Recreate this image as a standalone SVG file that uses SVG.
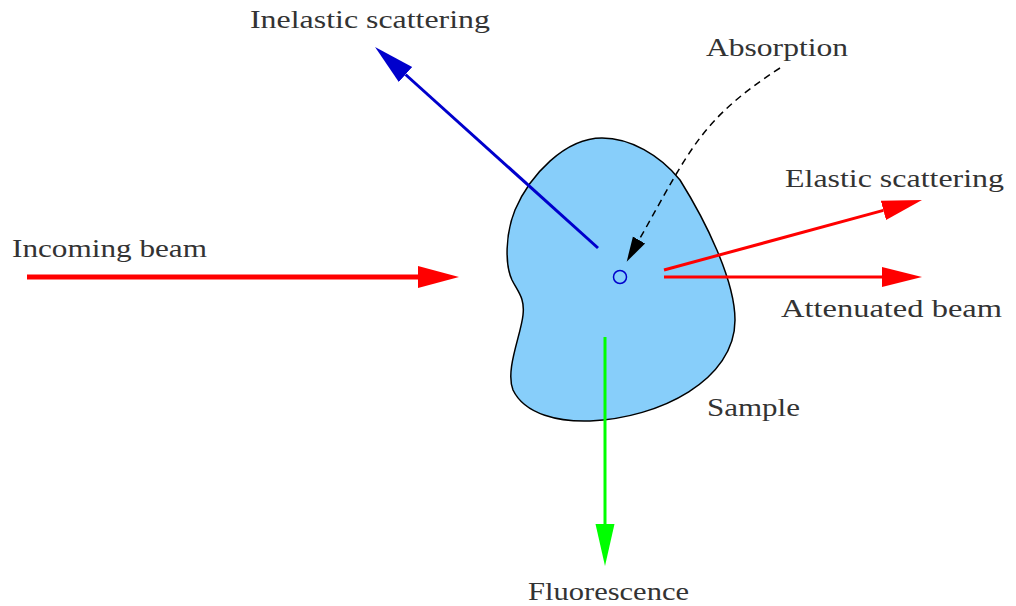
<svg xmlns="http://www.w3.org/2000/svg" width="1016" height="606" viewBox="0 0 1016 606">
  <style>
    .lbl { font-family: "Liberation Serif", "DejaVu Serif", serif; font-size: 26px; fill: #333333; }
    .red { stroke: #ff0000; fill: none; }
    .blue { stroke: #0000cc; fill: none; }
    .green { stroke: #00ff00; fill: none; }
  </style>
  <defs>
    <marker id="hRed" markerUnits="userSpaceOnUse" viewBox="0 -12 42 24" refX="0" refY="0" markerWidth="42" markerHeight="24" orient="auto">
      <path d="M0,-11 L41,0 L0,11 Z" fill="#ff0000"/>
    </marker>
    <marker id="hRedS" markerUnits="userSpaceOnUse" viewBox="0 -12 42 24" refX="0" refY="0" markerWidth="42" markerHeight="24" orient="auto">
      <path d="M0,-10 L40,0 L0,10 Z" fill="#ff0000"/>
    </marker>
    <marker id="hBlue" markerUnits="userSpaceOnUse" viewBox="0 -12 42 24" refX="0" refY="0" markerWidth="42" markerHeight="24" orient="auto">
      <path d="M0,-10 L41,0 L0,10 Z" fill="#0000cc"/>
    </marker>
    <marker id="hGreen" markerUnits="userSpaceOnUse" viewBox="0 -12 43 24" refX="0" refY="0" markerWidth="43" markerHeight="24" orient="auto">
      <path d="M0,-9.5 L42,0 L0,9.5 Z" fill="#00ff00"/>
    </marker>
    <marker id="hBlack" markerUnits="userSpaceOnUse" viewBox="0 -8 26 16" refX="0" refY="0" markerWidth="26" markerHeight="16" orient="auto">
      <path d="M0,-7 L25,0 L0,7 Z" fill="#000000"/>
    </marker>
  </defs>
  <rect width="1016" height="606" fill="#ffffff"/>

  <g id="sample">
    <path d="M602,138 C565,138 530,175 515,210 C505,235 505,265 512,280 C518,292 525,298 523,315 C521,335 505,370 513,390 C525,415 560,422 590,421 C660,418 735,380 735,320 C735,280 705,220 680,180 C660,155 630,138 602,138 Z" fill="#87cefa" stroke="#000000" stroke-width="1.5"/>
    <circle cx="620" cy="277" r="6.5" fill="none" stroke="#0000cc" stroke-width="1.5"/>
    <text class="lbl" x="707" y="416" textLength="93" lengthAdjust="spacingAndGlyphs">Sample</text>
  </g>

  <g id="connectors">
    <line class="red" x1="27" y1="277" x2="418" y2="277" stroke-width="5" marker-end="url(#hRed)"/>
    <line class="red" x1="664" y1="270" x2="883.4" y2="210.4" stroke-width="3" marker-end="url(#hRedS)"/>
    <line class="red" x1="664" y1="277" x2="882" y2="277" stroke-width="3" marker-end="url(#hRedS)"/>
    <line class="blue" x1="598" y1="248" x2="405.5" y2="74.5" stroke-width="3" marker-end="url(#hBlue)"/>
    <line class="green" x1="605" y1="337" x2="605" y2="524" stroke-width="3" marker-end="url(#hGreen)"/>
    <path d="M780,68 C700,120 690,150 639,240" fill="none" stroke="#000000" stroke-width="1.5" stroke-dasharray="7,5" marker-end="url(#hBlack)"/>
  </g>

  <g id="incoming">
    <text class="lbl" x="12" y="257" textLength="195" lengthAdjust="spacingAndGlyphs">Incoming beam</text>
  </g>
  <g id="inelastic">
    <text class="lbl" x="250" y="28" textLength="240" lengthAdjust="spacingAndGlyphs">Inelastic scattering</text>
  </g>
  <g id="absorption">
    <text class="lbl" x="706" y="56" textLength="142" lengthAdjust="spacingAndGlyphs">Absorption</text>
  </g>
  <g id="elastic">
    <text class="lbl" x="785" y="187" textLength="219" lengthAdjust="spacingAndGlyphs">Elastic scattering</text>
  </g>
  <g id="attenuated">
    <text class="lbl" x="781" y="317" textLength="221" lengthAdjust="spacingAndGlyphs">Attenuated beam</text>
  </g>
  <g id="fluorescence">
    <text class="lbl" x="528" y="600" textLength="161" lengthAdjust="spacingAndGlyphs">Fluorescence</text>
  </g>
</svg>
